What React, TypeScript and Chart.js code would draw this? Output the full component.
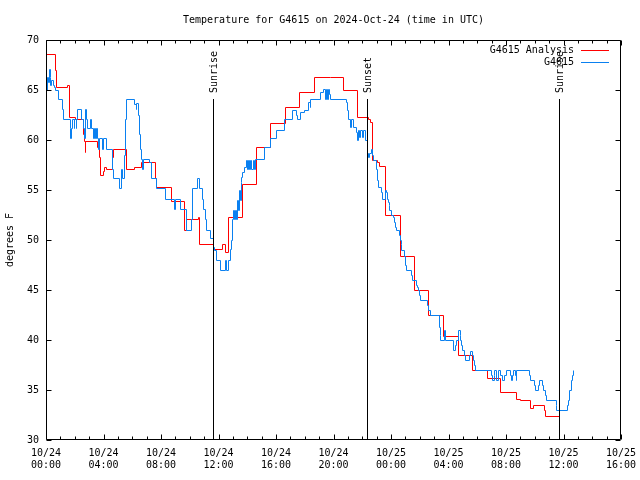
import React, { useEffect, useRef } from 'react';
import { Chart, registerables } from 'chart.js';

Chart.register(...registerables);

const TITLE = 'Temperature for G4615 on 2024-Oct-24 (time in UTC)';
const Y_LABEL = 'degrees F';
const DAY_LABELS = ['10/24', '10/25'];
const X_MIN = 0;
const X_MAX = 40;
const Y_MIN = 30;
const Y_MAX = 70;
const SERIES_NAMES = ['G4615 Analysis', 'G4615'];

// hours since 10/24 00:00 UTC, temperature in degrees F (step values)
const ANALYSIS: [number, number][] = [
  [0.00, 68.6], [0.63, 66.9], [0.73, 65.2], [1.53, 65.5], [1.60, 62.2], [2.02, 62.0],
  [2.64, 60.6], [2.69, 59.9], [2.73, 58.8], [2.78, 59.9], [3.58, 59.2], [3.72, 58.3],
  [3.79, 56.5], [3.97, 56.9], [4.10, 57.3], [4.24, 57.1], [4.66, 58.3], [4.73, 59.1],
  [5.60, 57.1], [6.17, 57.3], [6.66, 57.8], [7.63, 56.2], [7.72, 55.3], [8.70, 53.9],
  [9.62, 51.0], [9.74, 52.0], [10.64, 52.3], [10.71, 49.6], [11.64, 49.1], [12.29, 49.5],
  [12.50, 48.8], [12.68, 52.2], [13.70, 55.6], [14.66, 59.3], [15.65, 61.6], [16.67, 63.2],
  [17.62, 64.8], [18.71, 66.2], [19.76, 66.3], [20.68, 65.0], [21.66, 62.3], [22.42, 62.0],
  [22.54, 61.7], [22.70, 58.0], [23.05, 57.7], [23.23, 57.4], [23.63, 52.5], [24.65, 48.4],
  [25.62, 45.0], [26.64, 42.5], [27.64, 40.4], [28.73, 38.5], [29.67, 37.0], [30.71, 36.1],
  [31.62, 34.8], [32.70, 34.1], [33.04, 34.0], [33.67, 33.2], [33.88, 33.5], [34.66, 33.0],
  [34.78, 32.4], [35.69, 32.4],
];

const OBSERVED: [number, number][] = [
  [0.00, 65.0], [0.12, 66.3], [0.19, 65.7], [0.23, 67.1], [0.28, 66.3], [0.33, 65.5],
  [0.40, 66.0], [0.51, 65.5], [0.58, 65.3], [0.63, 65.0], [0.86, 64.1], [1.16, 63.1],
  [1.25, 62.1], [1.67, 61.1], [1.72, 60.1], [1.74, 61.1], [1.81, 62.1], [1.95, 61.1],
  [2.00, 62.1], [2.09, 61.1], [2.14, 62.1], [2.21, 63.1], [2.48, 62.1], [2.64, 61.1],
  [2.71, 60.1], [2.78, 63.1], [2.83, 62.1], [2.89, 61.1], [3.11, 62.1], [3.18, 61.1],
  [3.29, 60.1], [3.36, 61.1], [3.43, 60.1], [3.50, 61.1], [3.57, 60.1], [3.64, 59.1],
  [3.71, 60.1], [3.92, 59.1], [3.99, 60.1], [4.24, 59.1], [4.61, 57.1], [4.68, 56.1],
  [5.08, 55.1], [5.27, 57.0], [5.34, 56.2], [5.43, 58.5], [5.50, 62.1], [5.61, 64.1],
  [6.19, 63.5], [6.28, 63.1], [6.33, 63.6], [6.40, 62.5], [6.50, 60.6], [6.57, 59.1],
  [6.64, 58.1], [6.71, 57.1], [6.78, 58.1], [7.23, 57.8], [7.34, 56.2], [7.72, 55.1],
  [8.28, 54.1], [8.94, 53.1], [9.04, 54.1], [9.37, 53.1], [9.79, 51.0], [10.14, 52.0],
  [10.18, 55.1], [10.55, 56.1], [10.71, 55.1], [10.87, 54.1], [10.99, 53.1], [11.11, 52.1],
  [11.18, 51.0], [11.46, 50.1], [11.64, 49.3], [11.71, 49.0], [11.87, 48.0], [12.17, 47.0],
  [12.50, 48.0], [12.57, 47.0], [12.73, 48.0], [12.80, 49.1], [12.87, 50.0], [12.96, 52.0],
  [13.03, 53.0], [13.08, 52.0], [13.15, 53.0], [13.22, 52.0], [13.29, 54.0], [13.36, 53.0],
  [13.43, 55.0], [13.50, 54.0], [13.57, 55.8], [13.63, 56.3], [13.70, 56.8], [13.84, 57.3],
  [13.98, 58.0], [14.05, 57.1], [14.12, 58.0], [14.19, 57.1], [14.26, 58.0], [14.33, 57.1],
  [14.40, 58.0], [14.47, 57.1], [14.59, 58.1], [15.17, 59.3], [15.65, 60.1], [16.05, 61.0],
  [16.58, 62.0], [17.13, 63.0], [17.44, 62.5], [17.51, 62.0], [17.72, 62.8], [17.95, 63.0],
  [18.25, 63.8], [18.37, 63.3], [18.43, 64.1], [19.13, 64.7], [19.29, 65.1], [19.41, 64.1],
  [19.48, 65.1], [19.55, 64.1], [19.62, 65.1], [19.69, 64.6], [19.76, 64.1], [20.87, 63.7],
  [20.96, 63.0], [21.03, 62.0], [21.15, 61.3], [21.27, 62.0], [21.36, 61.3], [21.61, 60.8],
  [21.70, 60.0], [21.77, 61.0], [21.84, 60.3], [21.91, 61.0], [22.03, 60.3], [22.12, 61.0],
  [22.26, 60.0], [22.35, 58.7], [22.42, 58.2], [22.49, 58.7], [22.61, 59.1], [22.73, 58.5],
  [22.77, 58.0], [23.01, 57.0], [23.05, 56.0], [23.12, 55.2], [23.36, 54.7], [23.40, 54.1],
  [23.65, 55.0], [23.70, 54.7], [23.77, 54.1], [23.81, 53.8], [23.88, 53.5], [23.93, 53.0],
  [24.05, 52.5], [24.16, 52.3], [24.21, 51.8], [24.28, 51.3], [24.35, 51.0], [24.56, 50.5],
  [24.63, 50.0], [24.70, 49.5], [24.74, 49.0], [24.97, 48.4], [25.04, 47.5], [25.09, 47.0],
  [25.44, 46.5], [25.51, 46.0], [25.74, 45.5], [25.83, 45.3], [25.90, 45.0], [25.97, 44.5],
  [26.02, 44.0], [26.55, 43.5], [26.59, 43.0], [26.76, 42.5], [27.36, 41.3], [27.41, 40.5],
  [27.46, 40.0], [27.69, 41.0], [27.76, 40.0], [28.38, 39.0], [28.49, 39.5], [28.56, 40.0],
  [28.73, 41.0], [28.80, 40.5], [28.85, 40.0], [28.92, 39.5], [28.99, 39.0], [29.08, 38.5],
  [29.15, 38.0], [29.45, 38.5], [29.50, 38.9], [29.68, 38.5], [29.72, 38.0], [29.79, 37.5],
  [29.89, 37.0], [31.00, 36.5], [31.07, 36.0], [31.17, 36.5], [31.23, 37.0], [31.35, 36.0],
  [31.46, 37.0], [31.65, 36.5], [31.77, 36.0], [31.93, 36.5], [32.00, 37.0], [32.33, 36.5],
  [32.40, 36.0], [32.47, 36.5], [32.51, 37.0], [32.63, 36.5], [32.70, 36.0], [32.74, 37.0],
  [33.62, 36.5], [33.67, 36.0], [33.95, 35.5], [34.02, 35.0], [34.25, 35.5], [34.32, 36.0],
  [34.55, 35.5], [34.64, 35.0], [34.78, 34.5], [34.83, 34.0], [35.48, 33.5], [35.53, 33.0],
  [36.30, 33.5], [36.34, 34.0], [36.45, 35.0], [36.57, 36.0], [36.64, 36.5], [36.73, 37.0],
];

const SUN_HOURS = [11.64, 22.35, 35.71];
const SUN_LABELS = ['Sunrise', 'Sunset', 'Sunrise'];
const SUN_LINE_TOP_TEMP = 64.1;

const RED = '#ff0000';
const BLUE = '#0a80f0';
const FONT = "'DejaVu Sans Mono', monospace";

function pad2(n: number) {
  return (n < 10 ? '0' : '') + n;
}

// snap computed point positions to pixel centres so 1px step lines are crisp
const crispPlugin = {
  id: 'crispSteps',
  beforeDatasetsDraw(chart: any) {
    chart.data.datasets.forEach((_: any, i: number) => {
      const meta = chart.getDatasetMeta(i);
      meta.data.forEach((el: any) => {
        el.x = Math.floor(el.x) + 0.5;
        el.y = Math.floor(el.y) + 0.5;
      });
      if (meta.dataset) meta.dataset._path = undefined;
    });
  },
};

const framePlugin = {
  id: 'gnuplotFrame',
  afterDatasetsDraw(chart: any) {
    const ctx: CanvasRenderingContext2D = chart.ctx;
    const area = chart.chartArea;
    const xs = chart.scales.x;
    const ys = chart.scales.y;
    ctx.save();
    ctx.strokeStyle = '#000';
    ctx.lineWidth = 1;
    const L = Math.round(area.left) + 0.5;
    const R = Math.round(area.right) - 0.5;
    const T = Math.round(area.top) + 0.5;
    const B = Math.round(area.bottom) - 0.5;

    // sunrise / sunset lines
    const yTop = Math.round(ys.getPixelForValue(SUN_LINE_TOP_TEMP));
    ctx.font = `10px ${FONT}`;
    ctx.fillStyle = '#000';
    SUN_HOURS.forEach((h, i) => {
      const x = Math.round(xs.getPixelForValue(h)) + 0.5;
      ctx.beginPath();
      ctx.moveTo(x, yTop);
      ctx.lineTo(x, B);
      ctx.stroke();
      ctx.save();
      ctx.translate(x + 1, yTop - 6);
      ctx.rotate(-Math.PI / 2);
      ctx.textAlign = 'left';
      ctx.textBaseline = 'middle';
      ctx.fillText(SUN_LABELS[i], 0, 0);
      ctx.restore();
    });

    // border
    ctx.beginPath();
    ctx.rect(L, T, R - L, B - T);
    ctx.stroke();

    // x ticks (major every 4h, minor every 1h), mirrored on top
    ctx.beginPath();
    for (let h = X_MIN; h <= X_MAX; h += 1) {
      const x = Math.round(xs.getPixelForValue(h)) + 0.5;
      const len = h % 4 === 0 ? 5 : 3;
      ctx.moveTo(x, B);
      ctx.lineTo(x, B - len);
      ctx.moveTo(x, T);
      ctx.lineTo(x, T + len);
    }
    // y ticks every 5, mirrored on right
    for (let v = Y_MIN; v <= Y_MAX; v += 5) {
      const y = Math.round(ys.getPixelForValue(v)) + 0.5;
      ctx.moveTo(L, y);
      ctx.lineTo(L + 5, y);
      ctx.moveTo(R, y);
      ctx.lineTo(R - 5, y);
    }
    ctx.stroke();

    // title
    ctx.textAlign = 'center';
    ctx.textBaseline = 'middle';
    ctx.fillText(TITLE, (area.left + area.right) / 2, 20);

    // y axis label
    ctx.save();
    ctx.translate(10, (area.top + area.bottom) / 2);
    ctx.rotate(-Math.PI / 2);
    ctx.fillText(Y_LABEL, 0, 0);
    ctx.restore();

    // legend
    const colors = [RED, BLUE];
    SERIES_NAMES.forEach((name, i) => {
      const y = area.top + 10 + i * 12;
      ctx.fillStyle = '#000';
      ctx.textAlign = 'right';
      ctx.textBaseline = 'middle';
      ctx.fillText(name, area.right - 47, y);
      ctx.strokeStyle = colors[i];
      ctx.beginPath();
      ctx.moveTo(area.right - 40, Math.round(y) + 0.5);
      ctx.lineTo(area.right - 12, Math.round(y) + 0.5);
      ctx.stroke();
    });
    ctx.restore();
  },
};

export default function App() {
  const ref = useRef<HTMLCanvasElement | null>(null);

  useEffect(() => {
    if (!ref.current) return;
    const chart = new Chart(ref.current, {
      type: 'line',
      data: {
        datasets: [
          {
            label: SERIES_NAMES[0],
            data: ANALYSIS.map(([x, y]) => ({ x, y })),
            borderColor: RED,
            borderWidth: 1,
            pointRadius: 0,
            stepped: 'before',
            fill: false,
            order: 2,
          },
          {
            label: SERIES_NAMES[1],
            data: OBSERVED.map(([x, y]) => ({ x, y })),
            borderColor: BLUE,
            borderWidth: 1,
            pointRadius: 0,
            stepped: 'before',
            fill: false,
            order: 1,
          },
        ],
      },
      options: {
        animation: false,
        responsive: false,
        devicePixelRatio: 1,
        layout: { padding: { left: 0, right: 19, top: 40, bottom: 0 } },
        plugins: {
          legend: { display: false },
          tooltip: { enabled: false },
          title: { display: false },
        },
        scales: {
          x: {
            type: 'linear',
            min: X_MIN,
            max: X_MAX,
            grid: { display: false, drawTicks: false, tickLength: 0 },
            border: { display: false },
            ticks: {
              stepSize: 4,
              autoSkip: false,
              maxRotation: 0,
              minRotation: 0,
              padding: 7,
              color: '#000',
              font: { family: FONT, size: 10, lineHeight: 1.25 },
              callback: (value: any) => {
                const h = Number(value);
                const day = Math.floor(h / 24);
                return [DAY_LABELS[day], pad2(h % 24) + ':00'];
              },
            },
            afterFit: (s: any) => {
              s.height = 40;
              s.paddingLeft = 0;
              s.paddingRight = 0;
            },
          },
          y: {
            type: 'linear',
            min: Y_MIN,
            max: Y_MAX,
            grid: { display: false, drawTicks: false, tickLength: 0 },
            border: { display: false },
            ticks: {
              stepSize: 5,
              padding: 7,
              color: '#000',
              font: { family: FONT, size: 10 },
            },
            afterFit: (s: any) => {
              s.width = 46;
              s.paddingTop = 0;
              s.paddingBottom = 0;
            },
          },
        },
      },
      plugins: [crispPlugin, framePlugin],
    } as any);
    return () => chart.destroy();
  }, []);

  return (
    <div style={{ position: 'absolute', left: 0, top: 0, width: 640, height: 480, background: '#fff' }}>
      <canvas ref={ref} width={640} height={480} style={{ display: 'block' }} />
    </div>
  );
}
